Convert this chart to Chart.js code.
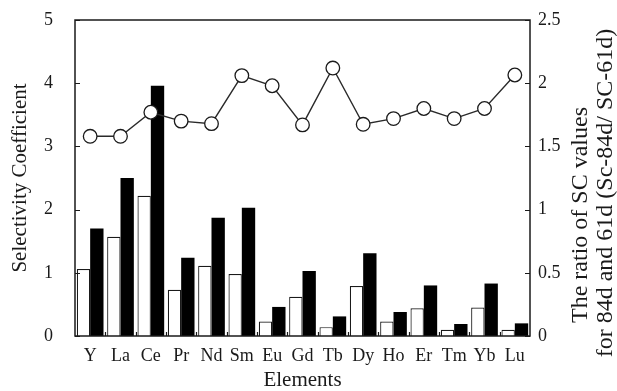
<!DOCTYPE html>
<html>
<head>
<meta charset="utf-8">
<script src="https://cdn.jsdelivr.net/npm/chart.js@4"></script>
<style>
  html, body { margin: 0; padding: 0; background: #fff; }
  #wrap { width: 617px; height: 391px; }
</style>
</head>
<body>
<div id="wrap"><canvas id="sc"></canvas></div>
<script>
// element labels
const elements = ['Y', 'La', 'Ce', 'Pr', 'Nd', 'Sm', 'Eu', 'Gd', 'Tb', 'Dy', 'Ho', 'Er', 'Tm', 'Yb', 'Lu'];
// selectivity coefficient, 61 d (open bars)
const sc61d = [1.06, 1.57, 2.22, 0.73, 1.11, 0.98, 0.23, 0.62, 0.14, 0.79, 0.23, 0.44, 0.10, 0.45, 0.10];
// selectivity coefficient, 84 d (filled bars)
const sc84d = [1.70, 2.50, 3.96, 1.24, 1.87, 2.03, 0.46, 1.03, 0.31, 1.31, 0.38, 0.80, 0.19, 0.83, 0.20];
// ratio 84d / 61d (right axis)
const ratio = [1.58, 1.58, 1.77, 1.70, 1.68, 2.06, 1.98, 1.67, 2.12, 1.675, 1.72, 1.80, 1.72, 1.80, 2.065];
const leftTicks = [0, 1, 2, 3, 4, 5];
const rightTicks = [0, 0.5, 1, 1.5, 2, 2.5];

const serif = "'Liberation Serif', 'Times New Roman', serif";
const ink = '#1a1a1a';

// box round the plot, inward ticks, right title
const frame = {
  id: 'frame',
  afterDatasetsDraw(chart) {
    const { ctx, chartArea: a, scales } = chart;
    ctx.save();
    ctx.strokeStyle = ink;
    ctx.lineWidth = 1.5;
    ctx.strokeRect(a.left, a.top, a.right - a.left, a.bottom - a.top);
    ctx.lineWidth = 1.2;
    ctx.beginPath();
    leftTicks.forEach(v => {
      const y = Math.round(scales.y.getPixelForValue(v)) + 0.5;
      ctx.moveTo(a.left, y); ctx.lineTo(a.left + 5, y);
    });
    rightTicks.forEach(v => {
      const y = Math.round(scales.y1.getPixelForValue(v)) + 0.5;
      ctx.moveTo(a.right, y); ctx.lineTo(a.right - 5, y);
    });
    for (let i = 0; i < elements.length - 1; i++) {
      const x = Math.round((scales.x.getPixelForValue(i) + scales.x.getPixelForValue(i + 1)) / 2) + 0.5;
      ctx.moveTo(x, a.bottom); ctx.lineTo(x, a.bottom - 4);
    }
    ctx.stroke();
    ctx.restore();
  },
  afterDraw(chart) {
    const { ctx } = chart;
    const lines = [['The ratio of SC values', 581, 215], ['for 84d and 61d (Sc-84d/ SC-61d)', 606, 193]];
    lines.forEach(([txt, x, y]) => {
      ctx.save();
      ctx.fillStyle = ink;
      ctx.font = '24px ' + serif;
      ctx.textAlign = 'center';
      ctx.textBaseline = 'middle';
      ctx.translate(x, y);
      ctx.rotate(-Math.PI / 2);
      ctx.fillText(txt, 0, 0);
      ctx.restore();
    });
  }
};

const fitY = w => s => { s.width = w; s.paddingTop = 0; s.paddingBottom = 0; };

new Chart(document.getElementById('sc'), {
  data: {
    labels: elements,
    datasets: [
      { type: 'line', data: ratio, yAxisID: 'y1', order: 0, borderColor: '#2a2a2a', borderWidth: 1.4,
        pointRadius: 6.8, pointBackgroundColor: '#fff', pointBorderColor: '#1a1a1a', pointBorderWidth: 1.3, tension: 0 },
      { type: 'bar', data: sc61d, yAxisID: 'y', order: 1, backgroundColor: '#fff', borderColor: ink, borderWidth: 1.2,
        barPercentage: 1, categoryPercentage: 0.88 },
      { type: 'bar', data: sc84d, yAxisID: 'y', order: 1, backgroundColor: '#000', borderColor: '#000', borderWidth: 0,
        barPercentage: 1, categoryPercentage: 0.88 }
    ]
  },
  options: {
    responsive: true, maintainAspectRatio: false, animation: false,
    layout: { padding: { top: 20, left: 0, right: 0, bottom: 0 } },
    plugins: { legend: { display: false }, tooltip: { enabled: false } },
    scales: {
      x: {
        grid: { display: false, drawTicks: false }, border: { display: false },
        ticks: { color: ink, font: { family: serif, size: 18 }, padding: 9, maxRotation: 0, autoSkip: false },
        title: { display: true, text: 'Elements', color: ink, font: { family: serif, size: 21, lineHeight: 1 }, padding: { top: 0, bottom: 0 } },
        afterFit: s => { s.height = 55; }
      },
      y: {
        position: 'left', min: 0, max: 5,
        grid: { display: false, drawTicks: false }, border: { display: false },
        ticks: { color: ink, font: { family: serif, size: 18 }, padding: 22, stepSize: 1 },
        title: { display: true, text: 'Selectivity Coefficient', color: ink, font: { family: serif, size: 21, lineHeight: 1.2 }, padding: { top: 8, bottom: 0 } },
        afterFit: fitY(75)
      },
      y1: {
        position: 'right', min: 0, max: 2.5,
        grid: { display: false, drawTicks: false }, border: { display: false },
        ticks: { color: ink, font: { family: serif, size: 18 }, padding: 8, stepSize: 0.5, callback: v => String(v) },
        afterFit: fitY(87)
      }
    }
  },
  plugins: [frame]
});
</script>
</body>
</html>
